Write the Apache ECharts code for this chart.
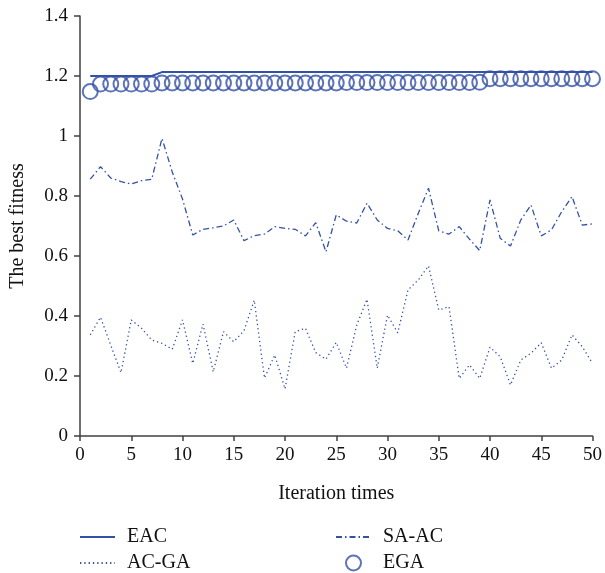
<!DOCTYPE html>
<html>
<head>
<meta charset="utf-8">
<script src="https://cdn.jsdelivr.net/npm/echarts@6/dist/echarts.min.js"></script>
<style>
  html, body { margin: 0; padding: 0; background: #fff; }
  #chart { width: 605px; height: 573px; }
</style>
</head>
<body>
<div id="chart"></div>
<script>
// 迭代次数
const iterations = [1, 2, 3, 4, 5, 6, 7, 8, 9, 10, 11, 12, 13, 14, 15, 16, 17, 18, 19, 20,
  21, 22, 23, 24, 25, 26, 27, 28, 29, 30, 31, 32, 33, 34, 35, 36, 37, 38, 39, 40,
  41, 42, 43, 44, 45, 46, 47, 48, 49, 50]

// 各算法最优适应度
const eac = [1.2, 1.2, 1.2, 1.2, 1.2, 1.2, 1.2, 1.213, 1.213, 1.213,
  1.213, 1.213, 1.213, 1.213, 1.213, 1.213, 1.213, 1.213, 1.213, 1.213,
  1.213, 1.213, 1.213, 1.213, 1.213, 1.213, 1.213, 1.213, 1.213, 1.213,
  1.213, 1.213, 1.213, 1.213, 1.213, 1.213, 1.213, 1.213, 1.213, 1.213,
  1.213, 1.213, 1.213, 1.213, 1.213, 1.213, 1.213, 1.213, 1.213, 1.213]
const acGa = [0.337, 0.396, 0.303, 0.211, 0.387, 0.359, 0.32, 0.309, 0.289, 0.387,
  0.242, 0.373, 0.214, 0.348, 0.314, 0.351, 0.453, 0.193, 0.27, 0.157,
  0.348, 0.359, 0.278, 0.256, 0.312, 0.226, 0.37, 0.456, 0.226, 0.403,
  0.344, 0.487, 0.52, 0.567, 0.42, 0.431, 0.192, 0.237, 0.192, 0.296,
  0.264, 0.17, 0.253, 0.276, 0.311, 0.226, 0.253, 0.337, 0.298, 0.242]
const saAc = [0.856, 0.898, 0.86, 0.848, 0.84, 0.851, 0.856, 0.992, 0.88, 0.79,
  0.67, 0.689, 0.694, 0.7, 0.72, 0.651, 0.668, 0.673, 0.698, 0.692,
  0.689, 0.667, 0.711, 0.614, 0.737, 0.716, 0.71, 0.776, 0.72, 0.692,
  0.684, 0.653, 0.742, 0.826, 0.684, 0.673, 0.698, 0.656, 0.618, 0.787,
  0.659, 0.633, 0.72, 0.77, 0.667, 0.687, 0.748, 0.798, 0.703, 0.707]
const ega = [1.148, 1.173, 1.173, 1.173, 1.173, 1.173, 1.173, 1.177, 1.177, 1.177,
  1.177, 1.177, 1.177, 1.177, 1.177, 1.177, 1.177, 1.177, 1.177, 1.177,
  1.177, 1.177, 1.177, 1.177, 1.177, 1.178, 1.178, 1.178, 1.178, 1.178,
  1.178, 1.178, 1.178, 1.178, 1.178, 1.178, 1.178, 1.178, 1.179, 1.191,
  1.191, 1.191, 1.191, 1.191, 1.191, 1.191, 1.191, 1.191, 1.191, 1.191]

const xTicks = { min: 0, max: 50, interval: 5 }
const yTicks = { min: 0, max: 1.4, interval: 0.2 }

const blue = '#3451a6'
const axisGray = '#404040'
const font = '"Liberation Serif", "DejaVu Serif", serif'

const pairs = (ys) => iterations.map((x, i) => [x, ys[i]])

const chart = echarts.init(document.getElementById('chart'))

// 折线图例只画线，不画点
const lineOnly = (name) => ({ name, itemStyle: { opacity: 0 } })

const legendBase = {
  orient: 'vertical',
  top: 522,
  height: 100,
  itemWidth: 35,
  itemHeight: 15,
  itemGap: 6,
  textStyle: { fontFamily: font, fontSize: 20, color: '#111', lineHeight: 20, padding: [0, 0, 0, 7] }
}

const option = {
  animation: false,
  backgroundColor: '#fff',
  grid: { left: 79, right: 8, top: 16, bottom: 137 },
  legend: [
    { ...legendBase, left: 74, data: [lineOnly('EAC'), lineOnly('AC-GA')] },
    { ...legendBase, left: 330, data: [lineOnly('SA-AC'), 'EGA'] }
  ],
  xAxis: {
    type: 'value',
    ...xTicks,
    name: 'Iteration times',
    nameLocation: 'middle',
    nameGap: 48,
    nameTextStyle: { fontFamily: font, fontSize: 20, color: '#111' },
    splitLine: { show: false },
    axisLine: { lineStyle: { color: axisGray, width: 1.5 } },
    axisTick: { length: 5, lineStyle: { color: axisGray, width: 1.5 } },
    axisLabel: { fontFamily: font, fontSize: 19, color: '#111', margin: 10 }
  },
  yAxis: {
    type: 'value',
    ...yTicks,
    name: 'The best fitness',
    nameLocation: 'middle',
    nameGap: 52,
    nameTextStyle: { fontFamily: font, fontSize: 20, color: '#111' },
    splitLine: { show: false },
    axisLine: { show: true, lineStyle: { color: axisGray, width: 1.5 } },
    axisTick: { show: true, length: 6, lineStyle: { color: axisGray, width: 1.5 } },
    axisLabel: { fontFamily: font, fontSize: 19, color: '#111', margin: 12 }
  },
  series: [
    {
      name: 'EAC',
      type: 'line',
      data: pairs(eac),
      symbol: 'none',
      lineStyle: { color: blue, width: 2 },
      itemStyle: { color: blue }
    },
    {
      name: 'AC-GA',
      type: 'line',
      data: pairs(acGa),
      symbol: 'none',
      lineStyle: { color: blue, width: 1.3, type: [1.3, 3] },
      itemStyle: { color: blue }
    },
    {
      name: 'SA-AC',
      type: 'line',
      data: pairs(saAc),
      symbol: 'none',
      lineStyle: { color: blue, width: 1.3, type: [6, 3, 1.5, 3] },
      itemStyle: { color: blue }
    },
    {
      name: 'EGA',
      type: 'scatter',
      data: pairs(ega),
      symbol: 'circle',
      symbolSize: 15,
      itemStyle: { color: 'rgba(255,255,255,0)', borderColor: blue, borderWidth: 2 }
    }
  ]
}

chart.setOption(option)
</script>
</body>
</html>
